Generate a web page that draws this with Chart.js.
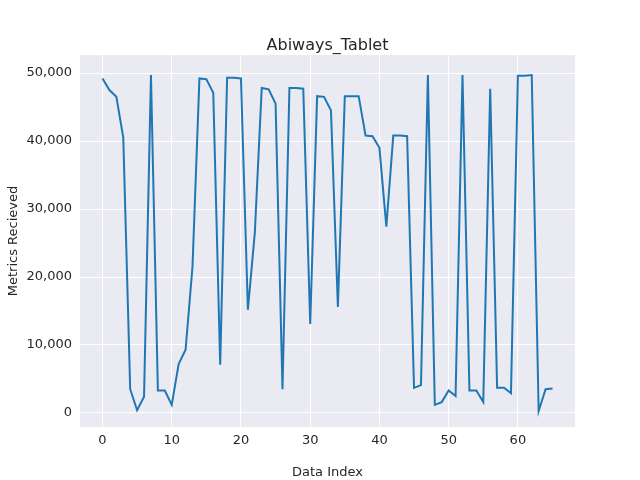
<!DOCTYPE html>
<html>
<head>
<meta charset="utf-8">
<script src="https://cdn.jsdelivr.net/npm/chart.js@4/dist/chart.umd.min.js"></script>
<style>
  html, body { margin: 0; padding: 0; background: #fff; }
  #wrap { width: 640px; height: 480px; }
</style>
</head>
<body>
<div id="wrap"><canvas id="chart" width="640" height="480"></canvas></div>
<script>
const chartTitle = 'Abiways_Tablet';
const xLabel = 'Data Index';
const yLabel = 'Metrics Recieved';
const xTicks = [0, 10, 20, 30, 40, 50, 60];
const yTicks = [0, 10000, 20000, 30000, 40000, 50000];
const metrics = [
    49200, 47500, 46500, 40500, 3500, 400, 2400, 49700, 3300, 3300,
    1200, 7200, 9300, 21500, 49200, 49100, 47100, 7100, 49300, 49300,
    49200, 15200, 26500, 47800, 47600, 45500, 3500, 47800, 47800, 47700,
    13100, 46600, 46500, 44500, 15600, 46600, 46600, 46600, 40800, 40700,
    39000, 27400, 40800, 40800, 40700, 3700, 4100, 49700, 1200, 1600,
    3300, 2500, 49700, 3300, 3300, 1600, 47700, 3700, 3700, 2900,
    49600, 49600, 49700, 300, 3500, 3600
];
const points = metrics.map((v, i) => ({ x: i, y: v }));

const font = { family: 'DejaVu Sans', size: 13 };

const bgPlugin = {
    id: 'bg',
    beforeDraw(chart) {
        const { ctx, chartArea: a } = chart;
        ctx.save();
        ctx.fillStyle = '#eaeaf2';
        ctx.fillRect(a.left, a.top, a.right - a.left, a.bottom - a.top);
        ctx.restore();
    },
    afterDraw(chart) {
        const { ctx, chartArea: a } = chart;
        ctx.save();
        ctx.fillStyle = '#262626';
        ctx.font = '16px "DejaVu Sans"';
        ctx.textAlign = 'center';
        ctx.textBaseline = 'alphabetic';
        ctx.fillText(chartTitle, (a.left + a.right) / 2, 50);
        ctx.restore();
    }
};

new Chart(document.getElementById('chart'), {
    type: 'line',
    data: {
        datasets: [{
            data: points,
            borderColor: '#1f77b4',
            borderWidth: 2,
            pointRadius: 0,
            tension: 0
        }]
    },
    options: {
        responsive: false,
        animation: false,
        layout: { padding: { top: 55, right: 65, left: 6, bottom: 0 } },
        plugins: { legend: { display: false }, tooltip: { enabled: false } },
        scales: {
            x: {
                type: 'linear',
                min: -3.25,
                max: 68.25,
                afterBuildTicks(s) { s.ticks = xTicks.map((v) => ({ value: v })); },
                afterFit(s) { s.height = 53; },
                ticks: { color: '#262626', font: font, padding: 6 },
                grid: { color: '#ffffff', lineWidth: 1, drawTicks: false },
                border: { display: false },
                title: { display: true, text: xLabel, color: '#262626', font: font, padding: { top: 2, bottom: 0 } }
            },
            y: {
                min: -2060,
                max: 52650,
                afterBuildTicks(s) { s.ticks = yTicks.map((v) => ({ value: v })); },
                afterFit(s) { s.width = 74; },
                ticks: { color: '#262626', font: font, padding: 8 },
                grid: { color: '#ffffff', lineWidth: 1, drawTicks: false },
                border: { display: false },
                title: { display: true, text: yLabel, color: '#262626', font: font, padding: { top: 0, bottom: 2 } }
            }
        }
    },
    plugins: [bgPlugin]
});
</script>
</body>
</html>
